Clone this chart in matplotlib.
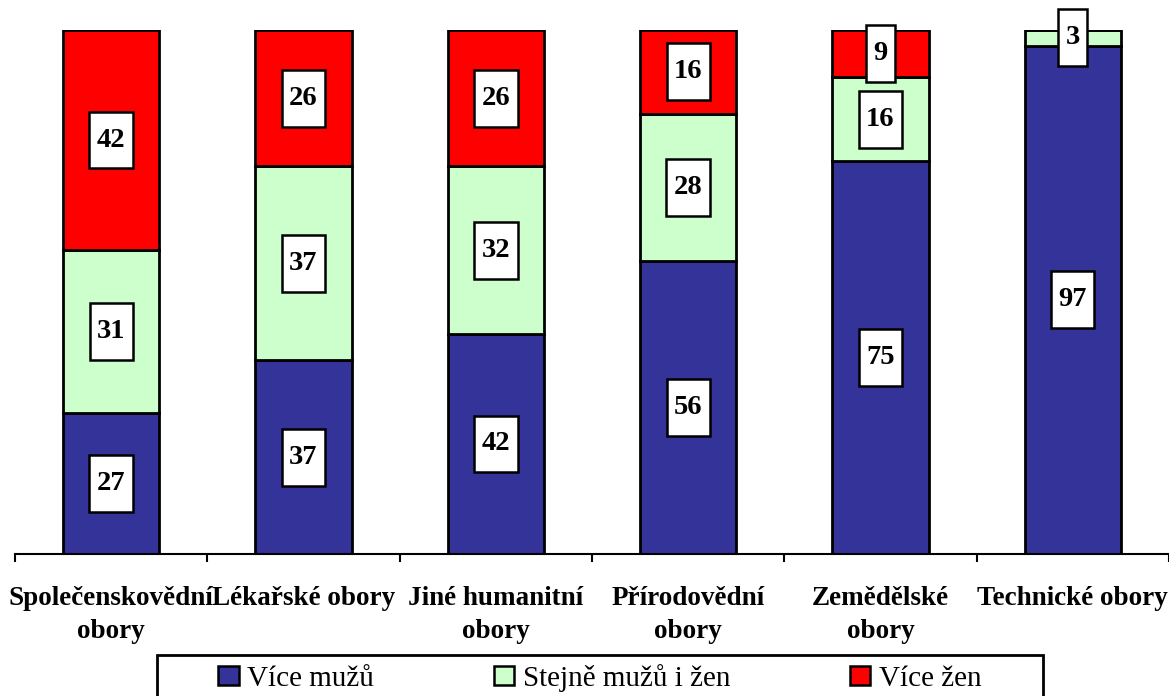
import numpy as np
import matplotlib
matplotlib.use("Agg")
import matplotlib.pyplot as plt
from matplotlib.path import Path
from matplotlib.patches import Patch, Rectangle

plt.rcParams['font.family'] = ['Liberation Serif', 'DejaVu Serif']

# data
obory = ["Společenskovědní\nobory", "Lékařské obory", "Jiné humanitní\nobory",
         "Přírodovědní\nobory", "Zemědělské\nobory", "Technické obory"]
vice_muzu = [27, 37, 42, 56, 75, 97]
stejne = [31, 37, 32, 28, 16, 3]
vice_zen = [42, 26, 26, 16, 9, 0]
serie_nazvy = ["Více mužů", "Stejně mužů i žen", "Více žen"]
barvy = ["#333399", "#CCFFCC", "#FF0000"]


# ramecek popisku - uzsi nez vyssi (jako v excelu)
def box_popisek(x0, y0, width, height, mutation_size):
    px = 0.26 * mutation_size
    py = 0.56 * mutation_size
    x0, y0 = x0 - px, y0 - py
    x1, y1 = x0 + width + 2 * px, y0 + height + 2 * py
    return Path([(x0, y0), (x1, y0), (x1, y1), (x0, y1), (x0, y0)], closed=True)


W, H = 1169, 696
fig = plt.figure(figsize=(W / 100, H / 100), dpi=100)
ax = fig.add_axes([15 / W, 142 / H, 1154 / W, 524 / H])

x = np.arange(len(obory))
dole = np.zeros(len(obory))
for hodnoty, barva in zip([vice_muzu, stejne, vice_zen], barvy):
    hodnoty = np.array(hodnoty, dtype=float)
    ax.bar(x, hodnoty, width=0.5, bottom=dole, color=barva,
           edgecolor="black", linewidth=2)
    for xi, b, h in zip(x, dole, hodnoty):
        if h <= 0:
            continue
        ax.text(xi, b + h / 2, f"{int(h)}", ha="center", va="center",
                fontsize=20.5, fontweight="bold",
                bbox=dict(boxstyle=box_popisek, facecolor="white",
                          edgecolor="black", linewidth=1.8))
    dole += hodnoty

ax.set_xlim(-0.5, len(obory) - 0.5)
ax.set_ylim(0, 100)
for s in ["left", "right", "top"]:
    ax.spines[s].set_visible(False)
ax.spines["bottom"].set_linewidth(1.5)
ax.set_yticks([])

ax.set_xticks(np.arange(len(obory) + 1) - 0.5)
ax.set_xticklabels([])
ax.tick_params(axis="x", which="major", direction="out", length=6, width=1.5)
ax.set_xticks(x, minor=True)
ax.set_xticklabels(obory, minor=True, fontsize=19.5, fontweight="bold",
                   multialignment="center", linespacing=1.45)
ax.tick_params(axis="x", which="minor", length=0, pad=23)

# legenda
handles = [Patch(facecolor=b, edgecolor="black", linewidth=1.8) for b in barvy]
fig.legend(handles, serie_nazvy, loc="center", ncol=3,
           bbox_to_anchor=(600 / W, 1 - 678 / H), frameon=False,
           fontsize=21, handlelength=0.7, handleheight=0.62,
           handletextpad=0.3, columnspacing=4.1, borderpad=0)
fig.patches.append(Rectangle((157 / W, -0.05), 886 / W, 0.05 + (696 - 655) / H,
                             transform=fig.transFigure, fill=False,
                             edgecolor="black", linewidth=2))

fig.savefig("out.png", dpi=100)
